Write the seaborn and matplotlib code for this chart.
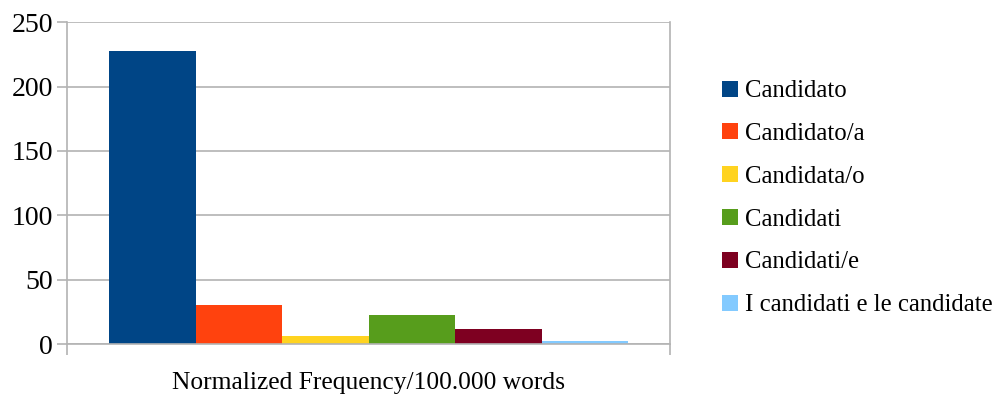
import matplotlib
matplotlib.use("Agg")
import matplotlib.pyplot as plt
import seaborn as sns
import pandas as pd
from matplotlib.patches import Patch

category = "Normalized Frequency/100.000 words"
series = ["Candidato", "Candidato/a", "Candidata/o", "Candidati",
          "Candidati/e", "I candidati e le candidate"]
values = [228, 30.5, 6.2, 22.6, 11.8, 2.3]
colors = ["#004586", "#ff420e", "#ffd320", "#579d1c", "#7e0021", "#83caff"]
yticks = [0, 50, 100, 150, 200, 250]

df = pd.DataFrame({"cat": [category] * len(series), "series": series, "value": values})

sns.set_theme(style="white")
plt.rcParams["font.family"] = ["Liberation Serif", "DejaVu Serif"]
plt.rcParams["text.color"] = "black"

fig = plt.figure(figsize=(9.99, 3.96), dpi=100)
ax = fig.add_axes([0.067, 0.131, 0.604, 0.813])

sns.barplot(data=df, x="cat", y="value", hue="series", hue_order=series,
            palette=colors, width=0.86, gap=0, saturation=1, legend=False,
            edgecolor="none", linewidth=0, ax=ax)

grid_c = "#b3b3b3"
ax.set_xlim(-0.5, 0.5)
ax.set_ylim(0, 250)
ax.set_yticks(yticks)
ax.yaxis.grid(True, color=grid_c, linewidth=1.2)
ax.set_axisbelow(True)
ax.set_xlabel("")
ax.set_ylabel("")
ax.spines["top"].set_visible(False)
for side in ["left", "right", "bottom"]:
    ax.spines[side].set_color(grid_c)
    ax.spines[side].set_linewidth(1.2)

ax.tick_params(axis="y", length=7, width=1.2, color=grid_c, direction="out",
               labelsize=20, pad=3, labelcolor="black", left=True)
ax.tick_params(axis="x", which="major", length=0, labelsize=18.4, pad=20,
               labelcolor="black")
ax.set_xticks([-0.5, 0.5], minor=True)
ax.tick_params(axis="x", which="minor", length=8, width=1.2, color=grid_c,
               direction="out", bottom=True)

handles = [Patch(facecolor=c, edgecolor="none") for c in colors]
fig.legend(handles, series, loc="upper left", bbox_to_anchor=(0.723, 0.797),
           frameon=False, fontsize=17.8, labelcolor="black",
           handlelength=0.62, handleheight=0.62,
           handletextpad=0.3, labelspacing=0.84, borderpad=0, borderaxespad=0)

fig.savefig("out.png", dpi=100)
